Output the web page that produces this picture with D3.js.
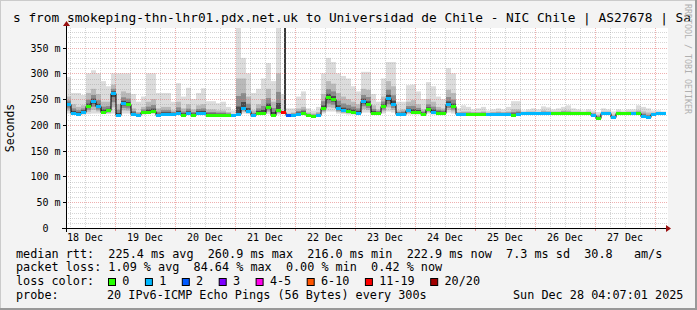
<!DOCTYPE html>
<html>
<head>
<meta charset="utf-8">
<script src="https://cdn.jsdelivr.net/npm/d3@7"></script>
<style>
  html, body { margin: 0; padding: 0; background: #f3f3f3; }
  svg { display: block; }
  text { font-family: "DejaVu Sans Mono", monospace; fill: #000; white-space: pre; }
</style>
</head>
<body>
<svg id="chart" width="697" height="310"></svg>
<script>
// ====== DATA ======
// 2-hour buckets starting 18 Dec 2025 04:24
const startTime = new Date(2025, 11, 18, 4, 24);
const stepHours = 2;

// median rtt (ms)
const median = [
  240,224,222,226,236,246,236,226,228,262,
  219,242,240,222,219,225,226,227,219,222,
  222,222,223,220,223,220,224,224,220,220,
  220,220,220,219,222,233,227,219,224,224,
  234,220,228,226,220,220,222,224,219,218,
  219,232,254,250,232,228,227,226,224,246,
  240,224,224,236,252,240,222,222,228,226,
  226,222,230,226,224,224,240,236,222,222,
  222,222,222,222,222,222,222,222,222,220,
  222,223,223,223,223,223,223,223,223,224,
  223,223,223,223,223,220,214,223,223,215,
  223,223,223,223,223,218,215,221,223,223
];

// loss class index per bucket (0 = "0", 1 = "1", 2 = "2", ... 6 = "11-19")
const lossClass = [
  1,1,1,1,0,1,1,0,0,1,
  1,1,0,1,1,0,0,0,1,1,
  1,1,1,0,1,0,1,1,0,0,
  0,0,0,1,1,1,1,1,0,0,
  0,0,0,6,2,1,1,0,0,0,
  1,0,0,0,1,1,0,0,1,1,
  0,0,0,0,1,1,1,1,1,0,
  0,0,0,1,0,0,1,0,1,1,
  0,0,0,0,1,1,1,1,1,0,
  1,1,1,1,1,1,1,0,0,0,
  0,0,0,0,0,1,0,1,1,1,
  0,0,0,1,0,1,1,1,1,1
];

// smoke: highest ping, upper dense ping, lowest ping (ms)
const smokeHi = [
  293,262,262,258,300,306,300,285,275,300,
  300,300,300,260,245,255,300,300,262,262,
  262,245,281,255,272,250,262,271,246,246,
  242,245,235,228,388,330,300,262,270,290,
  320,285,388,388,232,232,255,265,232,228,
  235,300,330,322,300,295,290,275,265,303,
  303,260,245,290,322,322,245,245,277,278,
  265,250,283,275,255,250,310,300,232,238,
  235,230,232,235,228,230,232,230,235,246,
  246,228,230,232,230,236,234,230,232,235,
  238,232,230,228,230,228,225,232,230,226,
  230,228,230,230,238,235,232,228,228,226
];
const smokeMid = [
  255,240,235,238,262,270,260,245,245,278,
  240,265,262,232,225,235,245,250,232,235,
  235,228,245,232,240,230,238,240,230,230,
  228,228,225,221,290,290,255,228,240,250,
  270,245,300,260,222,224,232,235,224,222,
  225,260,285,280,262,255,250,245,240,270,
  268,238,230,255,285,275,228,230,245,248,
  240,230,250,245,235,232,268,262,225,226,
  226,225,225,226,224,225,226,225,226,230,
  230,225,226,226,225,228,227,226,226,228,
  228,226,226,225,226,224,220,226,226,220,
  226,225,226,226,228,226,224,224,225,225
];
const smokeLo = [
  222,220,219,220,221,222,222,221,221,222,
  218,222,222,219,218,220,221,221,218,219,
  219,219,219,218,219,218,219,219,218,218,
  218,218,218,218,219,222,221,218,220,220,
  221,218,220,221,218,218,219,219,217,216,
  217,222,226,226,222,221,220,220,220,224,
  224,220,220,222,226,224,219,219,220,220,
  220,219,222,220,219,219,224,222,220,220,
  220,220,220,220,220,220,220,220,220,218,
  220,221,221,221,221,221,221,221,221,221,
  221,221,221,221,221,218,212,221,221,213,
  221,221,221,221,221,215,213,219,221,221
];

const yTicks = [0, 50, 100, 150, 200, 250, 300, 350];
const dayLabels = ["18 Dec","19 Dec","20 Dec","21 Dec","22 Dec","23 Dec","24 Dec","25 Dec","26 Dec","27 Dec"];

const lossLabels = ["0","1","2","3","4-5","6-10","11-19","20/20"];
const lossColors = ["#26ff00","#00b8ff","#0059ff","#7e00ff","#ff00ea","#ff5500","#ff0000","#a10000"];

const title = "s from smokeping-thn-lhr01.pdx.net.uk to Universidad de Chile - NIC Chile | AS27678 | Sa";
const rttText = "median rtt:  225.4 ms avg  260.9 ms max  216.0 ms min  222.9 ms now  7.3 ms sd  30.8   am/s";
const lossText = "packet loss: 1.09 % avg  84.64 % max  0.00 % min  0.42 % now";
const probeLine = [["probe:",16],["20 IPv6-ICMP Echo Pings (56 Bytes) every 300s",107],["Sun Dec 28 04:07:01 2025",513]];

// ====== CHART ======
const W = 697, H = 310;
const plot = { left: 66, right: 668, top: 28, bottom: 228 };
const svg = d3.select("#chart");

svg.append("rect").attr("width", W).attr("height", H).attr("fill", "#f3f3f3");
svg.append("rect")
  .attr("x", plot.left).attr("y", plot.top)
  .attr("width", plot.right - plot.left).attr("height", plot.bottom - plot.top)
  .attr("fill", "#fff");

const times = median.map((d, i) => d3.timeHour.offset(startTime, i * stepHours));
const endTime = d3.timeHour.offset(startTime, median.length * stepHours);

const x = d3.scaleTime()
  .domain([startTime, endTime])
  .range([66, 666]);

const y = d3.scaleLinear()
  .domain([0, 388])
  .range([plot.bottom, plot.top]);

const data = median.map((m, i) => ({
  t0: times[i],
  t1: d3.timeHour.offset(times[i], stepHours),
  med: m, loss: lossClass[i], hi: smokeHi[i], mid: smokeMid[i], lo: smokeLo[i]
}));

// smoke
const gSmoke = svg.append("g");
data.forEach(d => {
  const x0 = x(d.t0), w = x(d.t1) - x0;
  const band = (a, b, fill) => {
    if (b - a <= 0) return;
    gSmoke.append("rect")
      .attr("x", x0).attr("width", w)
      .attr("y", y(b)).attr("height", y(a) - y(b))
      .attr("fill", fill);
  };
  if (d.loss >= 5) {
    band(d.lo, d.mid, "#dcdcdc");
    gSmoke.append("rect")
      .attr("x", x0 + 3).attr("width", 2)
      .attr("y", y(d.hi)).attr("height", y(d.med) - y(d.hi))
      .attr("fill", "#3a3a3a");
    return;
  }
  const up = d.mid - d.med, down = d.med - d.lo;
  band(d.lo, d.hi, "#dcdcdc");
  band(d.med - down * 0.7, d.mid, "#b9b9b9");
  band(d.med - down * 0.45, d.med + up * 0.5, "#8a8a8a");
  band(d.med - down * 0.2, d.med + up * 0.2, "#4a4a4a");
});

// grid
const gGrid = svg.append("g");
d3.range(10, 390, 10).forEach(v => {
  const major = v % 50 === 0;
  gGrid.append("line")
    .attr("x1", plot.left).attr("x2", plot.right)
    .attr("y1", Math.round(y(v)) + 0.5).attr("y2", Math.round(y(v)) + 0.5)
    .attr("stroke", major ? "rgba(225,110,110,0.55)" : "rgba(150,150,150,0.4)")
    .attr("stroke-dasharray", "1,1");
});
d3.timeHour.every(6).range(startTime, endTime).forEach(t => {
  const major = t.getHours() === 0;
  const px = Math.round(x(t)) + 0.5;
  gGrid.append("line")
    .attr("x1", px).attr("x2", px)
    .attr("y1", plot.top).attr("y2", plot.bottom)
    .attr("stroke", major ? "rgba(225,110,110,0.55)" : "rgba(150,150,150,0.4)")
    .attr("stroke-dasharray", "1,1");
  if (major) {
    gGrid.append("line")
      .attr("x1", px).attr("x2", px)
      .attr("y1", plot.bottom).attr("y2", plot.bottom + 3)
      .attr("stroke", "rgba(225,110,110,0.7)");
  }
});

// median line (black steps) + loss coloured segments
const line = d3.line()
  .x(d => x(d.t))
  .y(d => Math.round(y(d.v)) + 0.5)
  .curve(d3.curveStepAfter);
const pts = data.map(d => ({ t: d.t0, v: d.med }));
pts.push({ t: endTime, v: median[median.length - 1] });
svg.append("path")
  .attr("d", line(pts))
  .attr("fill", "none")
  .attr("stroke", "#000")
  .attr("stroke-width", 1);

svg.append("g").selectAll("line")
  .data(data)
  .enter().append("line")
  .attr("x1", d => x(d.t0)).attr("x2", d => x(d.t1))
  .attr("y1", d => Math.round(y(d.med)) + 0.5)
  .attr("y2", d => Math.round(y(d.med)) + 0.5)
  .attr("stroke", d => lossColors[d.loss])
  .attr("stroke-width", 3);

// axes
svg.append("line")
  .attr("x1", 62).attr("x2", 667)
  .attr("y1", plot.bottom + 0.5).attr("y2", plot.bottom + 0.5)
  .attr("stroke", "#000");
svg.append("path")
  .attr("d", `M666,${plot.bottom - 3}L671,${plot.bottom + 0.5}L666,${plot.bottom + 4}Z`)
  .attr("fill", "#9a1010");
svg.append("line")
  .attr("x1", plot.left + 0.5).attr("x2", plot.left + 0.5)
  .attr("y1", 232).attr("y2", 25)
  .attr("stroke", "#000");
svg.append("path")
  .attr("d", `M${plot.left - 3},26L${plot.left + 0.5},21L${plot.left + 4},26Z`)
  .attr("fill", "#9a1010");

// y tick labels
const gY = svg.append("g").attr("font-size", "10px");
yTicks.forEach(v => {
  const py = Math.round(y(v)) + 0.5;
  gY.append("line")
    .attr("x1", 63).attr("x2", 66)
    .attr("y1", py).attr("y2", py)
    .attr("stroke", "#000");
  gY.append("text")
    .attr("x", 48.5).attr("y", py).attr("dy", "0.35em")
    .attr("text-anchor", "end")
    .text(v);
  if (v !== 0) {
    gY.append("text")
      .attr("x", 54.5).attr("y", py).attr("dy", "0.35em")
      .text("m");
  }
});

// x labels centred on midday
const gX = svg.append("g").attr("font-size", "10px");
dayLabels.forEach((lab, i) => {
  const noon = new Date(2025, 11, 18 + i, 12, 0);
  gX.append("text")
    .attr("x", x(noon)).attr("y", 241)
    .attr("text-anchor", "middle")
    .text(lab);
});

// axis title
svg.append("text")
  .attr("transform", "translate(14,128) rotate(-90)")
  .attr("text-anchor", "middle")
  .attr("font-size", "11.5px")
  .text("Seconds");

// title
svg.append("text")
  .attr("x", 13).attr("y", 21.5)
  .attr("font-size", "12.8px")
  .text(title);

// legend rows
const legendRow = (items, yy) => {
  items.forEach(([s, xx]) => {
    svg.append("text")
      .attr("x", xx).attr("y", yy)
      .attr("font-size", "11.8px")
      .text(s);
  });
};
legendRow([[rttText, 16]], 257.5);
legendRow([[lossText, 16]], 271);
legendRow([["loss color:", 16]], 285);
legendRow(probeLine, 299);

let bx = 108;
lossLabels.forEach((lab, i) => {
  svg.append("rect")
    .attr("x", bx + 0.5).attr("y", 278.5)
    .attr("width", 7).attr("height", 7)
    .attr("fill", lossColors[i])
    .attr("stroke", "#000");
  svg.append("text")
    .attr("x", bx + 14.3).attr("y", 285)
    .attr("font-size", "11.8px")
    .text(lab);
  bx = bx + 14.3 + lab.length * 7.1 + 15.5;
});

// watermark
svg.append("text")
  .attr("transform", "translate(684.5,4) rotate(90)")
  .attr("font-size", "8.3px")
  .style("fill", "#b0b0b0")
  .text("RRDTOOL / TOBI OETIKER");

// 3d border
svg.append("path").attr("d", `M0,${H}V0H${W}`).attr("fill", "none")
  .attr("stroke", "#cbcbcb").attr("stroke-width", 2);
svg.append("path").attr("d", `M0,${H - 1}H${W - 1}V0`).attr("fill", "none")
  .attr("stroke", "#999").attr("stroke-width", 2);
</script>
</body>
</html>
